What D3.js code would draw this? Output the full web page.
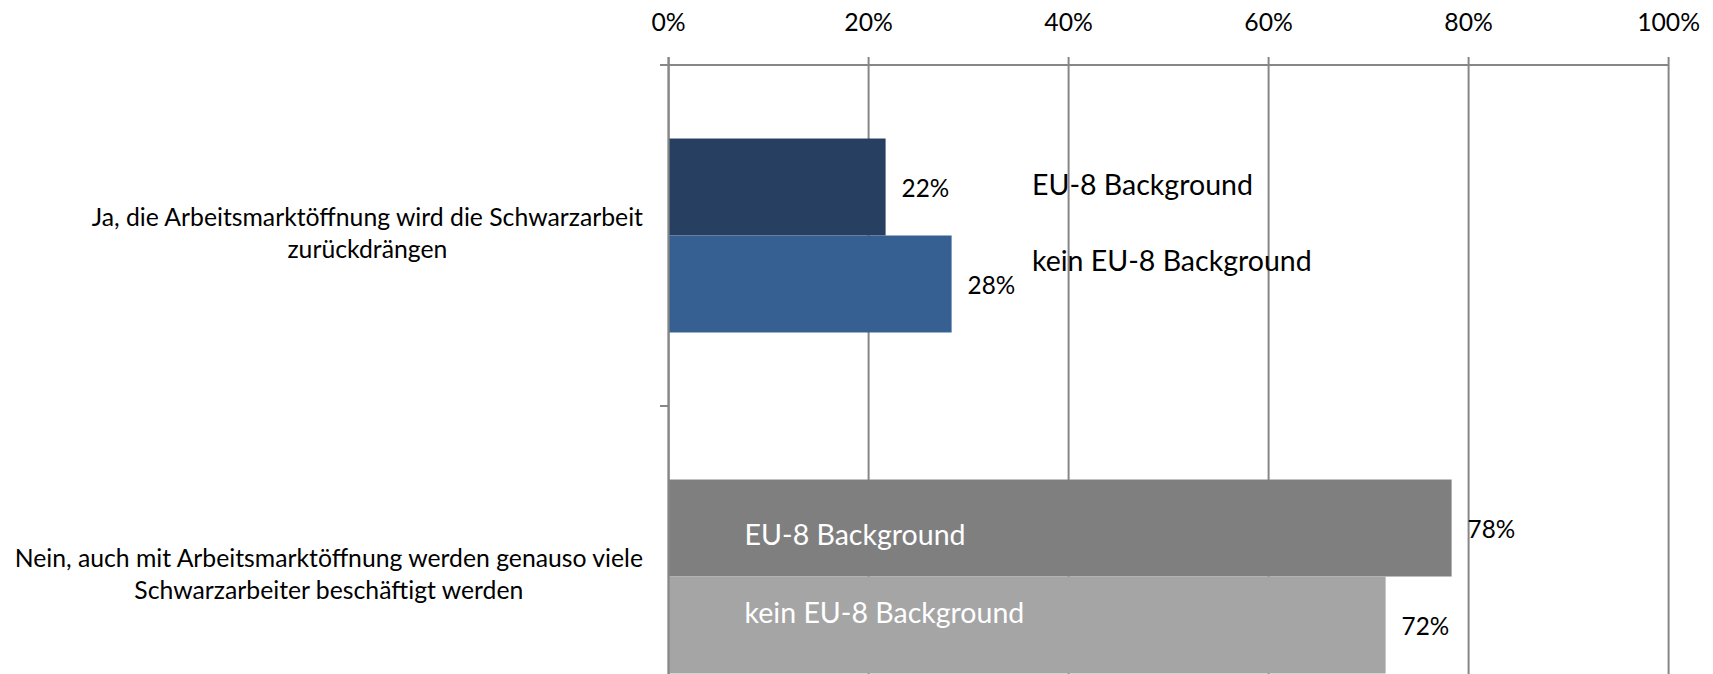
<!DOCTYPE html>
<html>
<head>
<meta charset="utf-8">
<script src="https://cdn.jsdelivr.net/npm/d3@7"></script>
<style>
  html, body { margin: 0; padding: 0; background: #fff; }
  svg { display: block; }
</style>
</head>
<body>
<svg id="chart" width="1713" height="674"></svg>
<script>
// ---- data ----
const categories = [
  ["Ja, die Arbeitsmarktöffnung wird die Schwarzarbeit", "zurückdrängen"],
  ["Nein, auch mit Arbeitsmarktöffnung werden genauso viele", "Schwarzarbeiter beschäftigt werden"]
];
const seriesNames = ["EU-8 Background", "kein EU-8 Background"];
const jaValues = [0.217, 0.283];
const neinValues = [0.783, 0.717];
const tickValues = [0, 0.2, 0.4, 0.6, 0.8, 1.0];

// ---- layout / style ----
const W = 1713, H = 674;
const FONT = "Lato, 'Open Sans', sans-serif";
const colors = [["#274061", "#366092"], ["#7f7f7f", "#a5a5a5"]];
const gridColor = "#878787";

const svg = d3.select("#chart");

// font width calibration (reference font is narrower than substitutes)
function fitSize(str, base, target) {
  const p = svg.append("text").attr("font-family", FONT).attr("font-size", base).text(str);
  const w = p.node().getComputedTextLength();
  p.remove();
  return base * target / w;
}
const k = fitSize(categories[0][0], 26, 551.5) / 26;
const fs = s => s * k;
const noteSize = fitSize(seriesNames[0], 31.5, 221);

const x = d3.scaleLinear().domain([0, 1]).range([668.6, 1668.6]);
const yCat = d3.scaleBand().domain(d3.range(categories.length)).range([65, 747]).padding(0);
const ySer = d3.scaleBand().domain(d3.range(seriesNames.length)).range([0, yCat.bandwidth()])
  .paddingInner(0).paddingOuter(0.758);

const values = [jaValues, neinValues];
const bars = [];
values.forEach((vals, ci) => vals.forEach((v, si) => bars.push({ ci, si, v })));

// gridlines (vertical, incl. small tick above the axis line)
svg.append("g").selectAll("line").data(tickValues).join("line")
  .attr("x1", d => x(d)).attr("x2", d => x(d))
  .attr("y1", 57).attr("y2", 747)
  .attr("stroke", gridColor).attr("stroke-width", 2);

// top axis line
svg.append("line").attr("x1", 660).attr("x2", x(1)).attr("y1", 65).attr("y2", 65)
  .attr("stroke", gridColor).attr("stroke-width", 2);

// category ticks on the left axis
svg.append("g").selectAll("line").data([0, 1, 2]).join("line")
  .attr("x1", 660).attr("x2", x(0))
  .attr("y1", d => 65 + d * yCat.step()).attr("y2", d => 65 + d * yCat.step())
  .attr("stroke", gridColor).attr("stroke-width", 2);

// bars
svg.append("g").selectAll("rect").data(bars).join("rect")
  .attr("x", x(0))
  .attr("y", d => yCat(d.ci) + ySer(d.si))
  .attr("width", d => x(d.v) - x(0))
  .attr("height", ySer.bandwidth())
  .attr("fill", d => colors[d.ci][d.si]);

// y axis line on top
svg.append("line").attr("x1", x(0)).attr("x2", x(0)).attr("y1", 57).attr("y2", 747)
  .attr("stroke", gridColor).attr("stroke-width", 2);

// tick labels
const pct = d3.format(".0%");
svg.append("g").selectAll("text").data(tickValues).join("text")
  .attr("x", d => x(d)).attr("y", 30.7)
  .attr("text-anchor", "middle")
  .attr("font-family", FONT).attr("font-size", fs(26)).attr("fill", "#000")
  .text(d => pct(d));

// data labels
svg.append("g").selectAll("text").data(bars).join("text")
  .attr("x", d => x(d.v) + 16)
  .attr("y", d => yCat(d.ci) + ySer(d.si) + ySer.bandwidth() / 2 + 10)
  .attr("font-family", FONT).attr("font-size", fs(25.5)).attr("fill", "#000")
  .text(d => pct(d.v));

// category labels (multi-line, centred block, right edge near axis)
categories.forEach((lines, ci) => {
  const g = svg.append("g");
  const ts = g.selectAll("text").data(lines).join("text")
    .attr("font-family", FONT).attr("font-size", fs(26)).attr("fill", "#000")
    .attr("text-anchor", "middle")
    .text(d => d);
  const maxW = d3.max(ts.nodes(), n => n.getComputedTextLength());
  const cx = 643 - maxW / 2;
  const cy = yCat(ci) + yCat.bandwidth() / 2;
  ts.attr("x", cx).attr("y", (d, i) => cy + (i - (lines.length - 1) / 2) * 32 + 6.5);
});

// series-name annotations
const barCenter = (ci, si) => yCat(ci) + ySer(si) + ySer.bandwidth() / 2;
const notes = [
  { t: seriesNames[0], x: x(0) + 363.4, y: barCenter(0, 0) + 8, c: "#000" },
  { t: seriesNames[1], x: x(0) + 363.4, y: barCenter(0, 0) + 84, c: "#000" },
  { t: seriesNames[0], x: x(0) + 76, y: barCenter(1, 0) + 17, c: "#fff" },
  { t: seriesNames[1], x: x(0) + 76, y: barCenter(1, 1) - 2, c: "#fff" }
];
svg.append("g").selectAll("text").data(notes).join("text")
  .attr("x", d => d.x).attr("y", d => d.y)
  .attr("font-family", FONT).attr("font-size", noteSize).attr("fill", d => d.c)
  .text(d => d.t);
</script>
</body>
</html>
